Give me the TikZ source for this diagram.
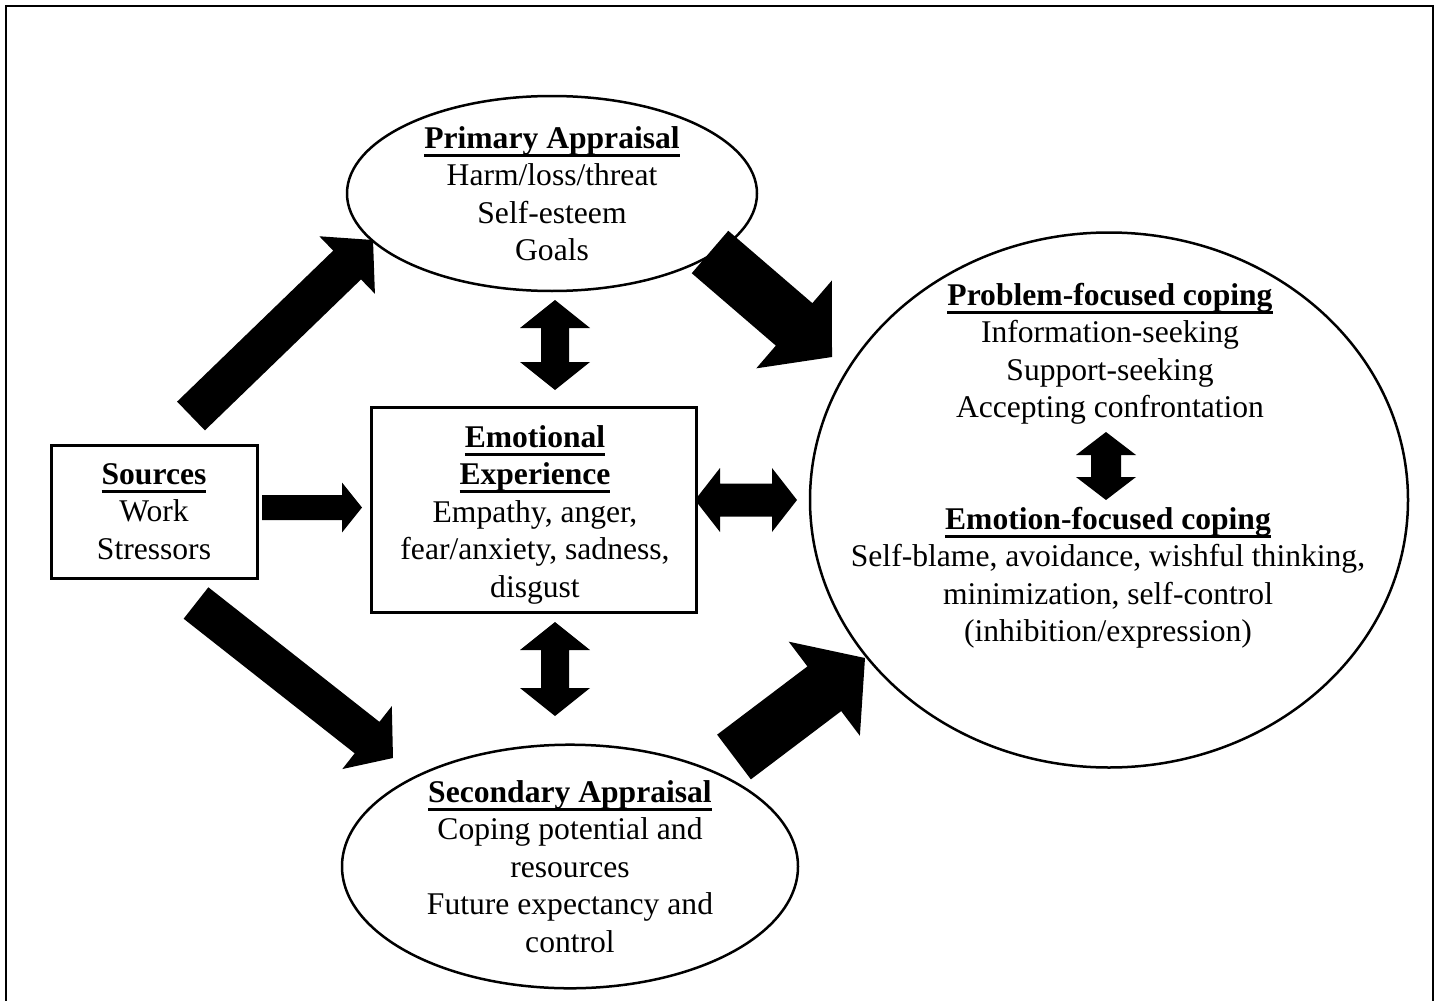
\documentclass[tikz,border=0pt]{standalone}
\usepackage{fontspec}
\setmainfont{Liberation Serif}
\usetikzlibrary{shapes.geometric,calc}
\newcommand\hdr[1]{\setbox0=\hbox{\bfseries #1}\leavevmode\rlap{\rule[-8.5pt]{\wd0}{2.6pt}}\box0}
% single block arrow: tail #1, tip #2, half shaft #3, half head #4, head length #5
\newcommand\sarrow[5]{%
  \coordinate (tmpH) at ($(#2)!#5!(#1)$);
  \fill[blk] ($(#1)!#3!90:(#2)$) -- ($(tmpH)!#3!90:(#2)$) -- ($(tmpH)!#4!90:(#2)$) -- (#2)
    -- ($(tmpH)!#4!-90:(#2)$) -- ($(tmpH)!#3!-90:(#2)$) -- ($(#1)!#3!-90:(#2)$) -- cycle;}
% double block arrow between #1 and #2
\newcommand\darrow[5]{%
  \coordinate (tmpA) at ($(#1)!#5!(#2)$);
  \coordinate (tmpB) at ($(#2)!#5!(#1)$);
  \fill[blk] (#1) -- ($(tmpA)!#4!90:(#2)$) -- ($(tmpA)!#3!90:(#2)$) -- ($(tmpB)!#3!90:(#2)$)
    -- ($(tmpB)!#4!90:(#2)$) -- (#2) -- ($(tmpB)!#4!-90:(#2)$) -- ($(tmpB)!#3!-90:(#2)$)
    -- ($(tmpA)!#3!-90:(#2)$) -- ($(tmpA)!#4!-90:(#2)$) -- cycle;}
\begin{document}
\begin{tikzpicture}[x=1pt,y=-1pt,
  txt/.style={align=center,font=\fontsize{31.6}{37.5}\selectfont,inner sep=0pt},
  boxnode/.style={draw,line width=3pt,inner sep=0pt},
  ellnode/.style={draw,ellipse,line width=2.5pt,inner sep=0pt},
  blk/.style={fill=black}]
\useasboundingbox (0,0) rectangle (1436,1001);
\draw[line width=2.5pt] (6,1030) -- (6,6) -- (1433,6) -- (1433,1030);

\node[ellnode,txt,minimum width=410pt,minimum height=195pt] (pa) at (552,193.5)
  {\hdr{Primary Appraisal}\\Harm/loss/threat\\Self-esteem\\Goals};
\node[ellnode,txt,minimum width=456pt,minimum height=225pt] (sa) at (570,866.5)
  {\hdr{Secondary Appraisal}\\Coping potential and\\resources\\Future expectancy and\\control};
\node[boxnode,txt,minimum width=206pt,minimum height=133pt] (src) at (154,511.5)
  {\hdr{Sources}\\Work\\Stressors};
\node[boxnode,txt,minimum width=325pt,minimum height=205pt] (emo) at (533.5,509.5) {};
\node[txt] (emot) at (535,514.5)
  {\hdr{Emotional}\\\hdr{Experience}\\Empathy, anger,\\fear/anxiety, sadness,\\disgust};
\node[ellnode,minimum width=598pt,minimum height=535pt] (cop) at (1109,500) {};
\node[txt] (pf) at (1110,354)
  {\hdr{Problem-focused coping}\\Information-seeking\\Support-seeking\\Accepting confrontation};
\node[txt] (ef) at (1108,577.5)
  {\hdr{Emotion-focused coping}\\Self-blame, avoidance, wishful thinking,\\minimization, self-control\\(inhibition/expression)};

% arrow end points
\coordinate (a1s) at (191,416); \coordinate (a1e) at (373,240);
\coordinate (a2s) at (710,252); \coordinate (a2e) at (832,357);
\coordinate (a3s) at (196,603); \coordinate (a3e) at (393,758);
\coordinate (a4s) at (734,757); \coordinate (a4e) at (865,658);
\coordinate (a5s) at (262,507.5); \coordinate (a5e) at (362,507.5);
\coordinate (a6s) at (695,500); \coordinate (a6e) at (797,500);
\coordinate (a7s) at (555,300); \coordinate (a7e) at (555,390);
\coordinate (a8s) at (555,622); \coordinate (a8e) at (555,716);
\coordinate (a9s) at (1106,432); \coordinate (a9e) at (1106,500);

\sarrow{a1s}{a1e}{20pt}{40pt}{36pt}
\sarrow{a2s}{a2e}{28pt}{58pt}{50pt}
\sarrow{a3s}{a3e}{20pt}{40pt}{33pt}
\sarrow{a4s}{a4e}{28pt}{59pt}{51pt}
\sarrow{a5s}{a5e}{12.5pt}{25pt}{20pt}
\darrow{a6s}{a6e}{16.5pt}{32pt}{25pt}
\darrow{a7s}{a7e}{14pt}{35pt}{28pt}
\darrow{a8s}{a8e}{14pt}{35pt}{28pt}
\darrow{a9s}{a9e}{15pt}{30pt}{23pt}
\end{tikzpicture}
\end{document}
